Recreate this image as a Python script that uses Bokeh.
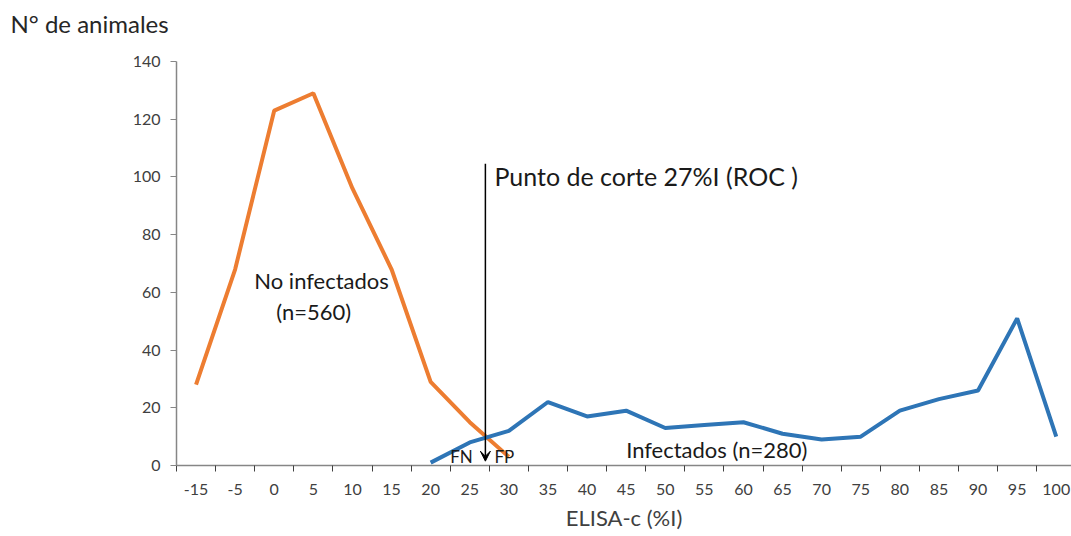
import numpy as np
from bokeh.plotting import figure
from bokeh.models import Range1d, FixedTicker, Label, Arrow, VeeHead, Title
from bokeh.embed import file_html
from bokeh.resources import INLINE

# ---- data ----
x_labels = ["-15", "-5", "0", "5", "10", "15", "20", "25", "30", "35", "40", "45",
            "50", "55", "60", "65", "70", "75", "80", "85", "90", "95", "100"]
no_infectados = [28, 68, 123, 129, 96, 68, 29, 15, 3] + [np.nan] * 14
infectados = [np.nan] * 6 + [1, 8, 12, 22, 17, 19, 13, 14, 15, 11, 9, 10, 19, 23, 26, 51, 10]
y_ticks = [0, 20, 40, 60, 80, 100, 120, 140]
cutoff = 27

FONT = "Lato"
n = len(x_labels)
xc = [i + 0.5 for i in range(n)]

W, H = 1071, 536
LEFT, TOP, BOTTOM = 176, 61, H - 465
p = figure(width=W, height=H, output_backend="svg", toolbar_location=None,
           x_range=Range1d(0, (W - LEFT) / 39.1), y_range=Range1d(0, 140),
           min_border_left=LEFT, min_border_right=0, min_border_top=TOP,
           min_border_bottom=BOTTOM)
p.outline_line_color = None
p.xgrid.visible = False
p.ygrid.visible = False
p.background_fill_color = "white"
p.border_fill_color = "white"
p.title.text = ""

# spacer, then the horizontal y-axis title at the top left
p.add_layout(Title(text=" ", text_font_size="1px", standoff=21), "above")
p.add_layout(Title(text="N° de animales", text_font=FONT, text_font_size="24px",
                   text_font_style="normal", text_color="#262626", align="left",
                   offset=-LEFT + 10, standoff=0), "above")

p.line(xc, no_infectados, line_color="#ED7D31", line_width=4)
p.line(xc, infectados, line_color="#2E75B6", line_width=4)

# axes
xa = p.xaxis[0]
xa.ticker = FixedTicker(ticks=xc, minor_ticks=list(range(n + 1)))
xa.major_label_overrides = {x: l for x, l in zip(xc, x_labels)}
xa.major_tick_out = 0
xa.major_tick_in = 0
xa.minor_tick_out = 6
xa.minor_tick_in = 0
xa.minor_tick_line_color = "#404040"
xa.axis_line_color = "#868686"
xa.axis_line_width = 1.5
xa.major_label_text_font = FONT
xa.major_label_text_font_size = "16px"
xa.major_label_text_color = "#404040"
xa.major_label_standoff = 12
xa.axis_label = "ELISA-c (%I)"
xa.axis_label_text_font = FONT
xa.axis_label_text_font_size = "22px"
xa.axis_label_text_font_style = "normal"
xa.axis_label_text_color = "#404040"
xa.axis_label_standoff = 6

ya = p.yaxis[0]
ya.ticker = FixedTicker(ticks=y_ticks)
ya.minor_tick_out = 0
ya.minor_tick_in = 0
ya.major_tick_out = 6
ya.major_tick_in = 0
ya.major_tick_line_color = "#868686"
ya.axis_line_color = "#868686"
ya.axis_line_width = 1.5
ya.major_label_text_font = FONT
ya.major_label_text_font_size = "16px"
ya.major_label_text_color = "#404040"
ya.major_label_standoff = 10

# cut-off arrow
cx = x_labels.index("25") + 0.5 + (cutoff - 25) / 5
p.add_layout(Arrow(x_start=cx, y_start=104.6, x_end=cx, y_end=1.5, line_color="black",
                   line_width=1.5,
                   end=VeeHead(size=10, fill_color="black", line_color="black")))

def txt(x, y, s, size="19px", align="left"):
    p.add_layout(Label(x=x, y=y, text=s, text_font=FONT, text_font_size=size,
                       text_color="#1a1a1a", text_baseline="middle", text_align=align))

txt(8.13, 100.4, "Punto de corte  27%I (ROC )", "25px")
txt(1.99, 64.0, "No infectados", "22px")
txt(2.55, 53.2, "(n=560)", "22px")
txt(7.0, 3.0, "FN", "17px")
txt(8.13, 3.0, "FP", "17px")
txt(11.5, 5.5, "Infectados (n=280)", "22px")

open("out.html", "w").write(file_html(p, INLINE))
